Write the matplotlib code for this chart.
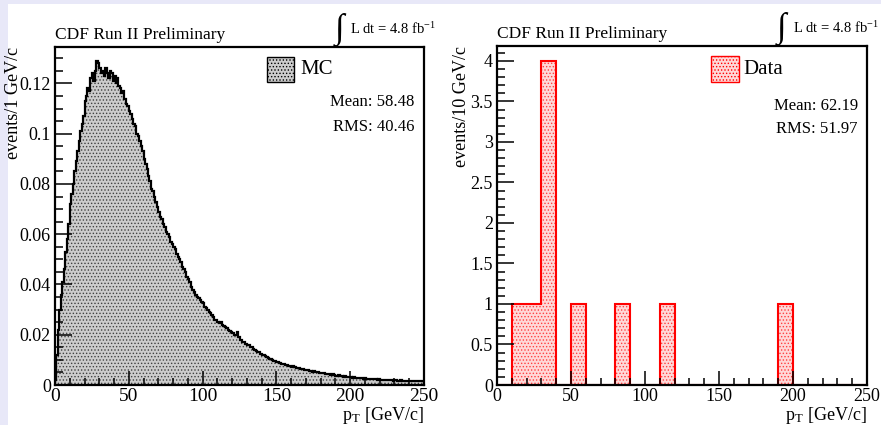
import numpy as np
import matplotlib
matplotlib.use("Agg")
import matplotlib.pyplot as plt
from matplotlib.ticker import MultipleLocator, FuncFormatter

plt.rcParams['font.family'] = ['Liberation Serif', 'DejaVu Serif']
plt.rcParams['mathtext.fontset'] = 'stix'
plt.rcParams['hatch.linewidth'] = 0.6

# MC: events per 1 GeV/c bin, 0..250 GeV/c
mc_edges = np.arange(0, 251, 1)
mc_values = [
    0.002, 0.012, 0.022, 0.030, 0.036, 0.041, 0.046, 0.053, 0.058, 0.064,
    0.072, 0.076, 0.080, 0.085, 0.089, 0.093, 0.097, 0.101, 0.104, 0.107,
    0.113, 0.115, 0.118, 0.117, 0.122, 0.124, 0.121, 0.125, 0.129, 0.128,
    0.126, 0.124, 0.125, 0.123, 0.126, 0.124, 0.122, 0.125, 0.124, 0.121,
    0.123, 0.120, 0.122, 0.119, 0.118, 0.116, 0.117, 0.114, 0.112, 0.111,
    0.109, 0.108, 0.106, 0.104, 0.103, 0.100, 0.099, 0.097, 0.095, 0.093,
    0.090, 0.088, 0.086, 0.083, 0.081, 0.078, 0.077, 0.075, 0.073, 0.071,
    0.069, 0.067, 0.066, 0.064, 0.063, 0.061, 0.060, 0.059, 0.057, 0.056,
    0.055, 0.054, 0.052, 0.051, 0.050, 0.049, 0.047, 0.046, 0.045, 0.043,
    0.042, 0.041, 0.039, 0.038, 0.037, 0.036, 0.035, 0.0345, 0.034, 0.033,
    0.0325, 0.031, 0.0305, 0.030, 0.029, 0.0285, 0.028, 0.027, 0.026, 0.026,
    0.025, 0.0245, 0.025, 0.024, 0.0235, 0.023, 0.0228, 0.022, 0.0215, 0.021,
    0.0205, 0.020, 0.0198, 0.021, 0.019, 0.018, 0.0178, 0.0172, 0.017, 0.0165,
    0.016, 0.0158, 0.0152, 0.015, 0.0145, 0.014, 0.0135, 0.013, 0.0132, 0.0125,
    0.012, 0.0118, 0.0115, 0.0112, 0.0108, 0.0105, 0.0102, 0.010, 0.0097, 0.0094,
    0.0092, 0.009, 0.0088, 0.0085, 0.0083, 0.0082, 0.008, 0.0078, 0.0076, 0.0075,
    0.0073, 0.0075, 0.007, 0.0068, 0.0066, 0.0067, 0.0064, 0.0062, 0.0063, 0.006,
    0.0058, 0.0059, 0.0056, 0.0055, 0.0053, 0.0054, 0.0051, 0.005, 0.0052, 0.0048,
    0.0047, 0.0046, 0.0048, 0.0044, 0.0043, 0.0044, 0.0041, 0.004, 0.0042, 0.0038,
    0.0037, 0.0036, 0.0038, 0.0035, 0.0034, 0.0033, 0.0034, 0.0032, 0.0031, 0.0033,
    0.003, 0.0029, 0.003, 0.0028, 0.0029, 0.0027, 0.0027, 0.0026, 0.0027, 0.0025,
    0.0026, 0.0024, 0.0025, 0.0023, 0.0024, 0.0022, 0.0023, 0.0022, 0.0021, 0.0022,
    0.002, 0.0021, 0.0019, 0.002, 0.0021, 0.0019, 0.0018, 0.002, 0.0019, 0.0017,
    0.0018, 0.0019, 0.0017, 0.0016, 0.0018, 0.0017, 0.0016, 0.0017, 0.0015, 0.0016,
    0.0017, 0.0015, 0.0016, 0.0014, 0.0015, 0.0016, 0.0014, 0.0015, 0.0016, 0.0014,
]

# Data: events per 10 GeV/c bin
data_edges = np.arange(0, 251, 10)
data_values = [0, 1, 1, 4, 0, 1, 0, 0, 1, 0, 0, 1, 0, 0, 0, 0, 0, 0, 0, 1, 0, 0, 0, 0, 0]

mc_stats = ("Mean: 58.48", "RMS: 40.46")
data_stats = ("Mean: 62.19", "RMS: 51.97")

fig = plt.figure(figsize=(8.81, 4.25), dpi=100)
fig.patch.set_facecolor('white')
# lavender strips on the left and top edge
fig.patches.append(plt.Rectangle((0, 0), 8/881, 1, transform=fig.transFigure,
                                 facecolor='#e8e8f8', edgecolor='none', zorder=-5))
fig.patches.append(plt.Rectangle((0, 1 - 4/425), 1, 4/425, transform=fig.transFigure,
                                 facecolor='#e8e8f8', edgecolor='none', zorder=-5))

ax1 = fig.add_axes([55/881, 1 - 385/425, 369/881, 338/425])
ax2 = fig.add_axes([497/881, 1 - 385/425, 370/881, 339/425])


def style_axes(ax, ymax, ymajor, yminor, fmt, xsize):
    ax.set_xlim(0, 250)
    ax.set_ylim(0, ymax)
    for s in ax.spines.values():
        s.set_linewidth(1.6)
    ax.xaxis.set_major_locator(MultipleLocator(50))
    ax.xaxis.set_minor_locator(MultipleLocator(10))
    ax.yaxis.set_major_locator(MultipleLocator(ymajor))
    ax.yaxis.set_minor_locator(MultipleLocator(yminor))
    ax.yaxis.set_major_formatter(FuncFormatter(fmt))
    ax.tick_params(which='both', direction='in', top=False, right=False, width=1.1,
                   labelsize=13, colors='black')
    ax.tick_params(axis='x', labelsize=xsize)
    ax.tick_params(axis='y', which='major', length=12, pad=3)
    ax.tick_params(axis='y', which='minor', length=6)
    ax.tick_params(axis='x', which='major', length=10, pad=2)
    ax.tick_params(axis='x', which='minor', length=5)


def header(ax):
    ax.text(0.0, 1.012, "CDF Run II Preliminary", transform=ax.transAxes,
            fontsize=12.5, ha='left', va='bottom')
    ax.text(0.757, 1.0, "\u222b", transform=ax.transAxes, fontsize=25,
            ha='left', va='bottom')
    ax.text(0.8, 1.03, r"L dt = 4.8 fb$^{\mathregular{-1}}$", transform=ax.transAxes,
            fontsize=10.5, ha='left', va='bottom')


def mc_fmt(v, pos):
    if abs(v) < 1e-9:
        return "0"
    return ("%.2f" % v).rstrip('0')


def data_fmt(v, pos):
    if abs(v - round(v)) < 1e-9:
        return "%d" % round(v)
    return "%g" % v


# left panel: MC
style_axes(ax1, 0.1345, 0.02, 0.005, mc_fmt, 14)
ax1.stairs(mc_values, mc_edges, fill=True, facecolor='#cccccc', edgecolor='#404040',
           hatch='.....', linewidth=0)
ax1.stairs(mc_values, mc_edges, fill=False, color='black', linewidth=1.6)
ax1.set_ylabel("events/1 GeV/c", fontsize=13, loc='top', labelpad=-2)
ax1.set_xlabel(r"p$_{\mathregular{T}}$ [GeV/c]", fontsize=13, loc='right', labelpad=0)
header(ax1)
ax1.add_patch(plt.Rectangle((0.575, 0.895), 0.072, 0.075, transform=ax1.transAxes,
                            facecolor='#cccccc', edgecolor='black', hatch='.....',
                            linewidth=1.0))
ax1.text(0.665, 0.932, "MC", transform=ax1.transAxes, fontsize=15, va='center')
ax1.text(0.975, 0.838, mc_stats[0], transform=ax1.transAxes, fontsize=12,
         ha='right', va='center')
ax1.text(0.975, 0.762, mc_stats[1], transform=ax1.transAxes, fontsize=12,
         ha='right', va='center')

# right panel: Data
style_axes(ax2, 4.185, 0.5, 0.1, data_fmt, 13)
ax2.stairs(data_values, data_edges, fill=True, facecolor='#ffd8d8', edgecolor='#ff4040',
           hatch='.....', linewidth=0)
ax2.stairs(data_values, data_edges, fill=False, color='red', linewidth=1.5)
ax2.set_ylabel("events/10 GeV/c", fontsize=13, loc='top', labelpad=0)
ax2.set_xlabel(r"p$_{\mathregular{T}}$ [GeV/c]", fontsize=13, loc='right', labelpad=0)
header(ax2)
ax2.add_patch(plt.Rectangle((0.579, 0.895), 0.074, 0.075, transform=ax2.transAxes,
                            facecolor='#ffd8d8', edgecolor='red', hatch='.....',
                            linewidth=1.0))
ax2.text(0.665, 0.932, "Data", transform=ax2.transAxes, fontsize=15, va='center')
ax2.text(0.975, 0.822, data_stats[0], transform=ax2.transAxes, fontsize=12,
         ha='right', va='center')
ax2.text(0.975, 0.754, data_stats[1], transform=ax2.transAxes, fontsize=12,
         ha='right', va='center')

fig.savefig("out.png", dpi=100)
